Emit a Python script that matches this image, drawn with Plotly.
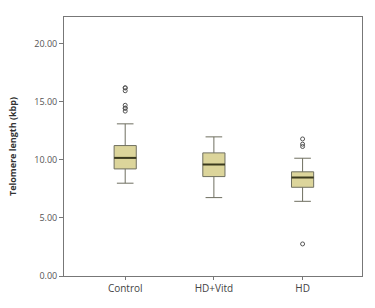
import plotly.graph_objects as go

categories = ["Control", "HD+Vitd", "HD"]
q1 = [9.22, 8.56, 7.64]
median = [10.17, 9.60, 8.48]
q3 = [11.23, 10.60, 8.97]
lower_whisker = [7.99, 6.75, 6.43]
upper_whisker = [13.10, 11.98, 10.14]
outlier_group = [0, 0, 0, 0, 0, 0, 0, 2, 2, 2, 2]
outlier_values = [16.2, 16.2, 15.95, 14.7, 14.45, 14.2, 14.45, 11.8, 11.35, 11.15, 2.76]
y_ticks = [0, 5, 10, 15, 20]

pos = list(range(len(categories)))
box_w = 0.25

fig = go.Figure()
fig.add_trace(go.Box(
    x=pos, q1=q1, median=median, q3=q3,
    lowerfence=lower_whisker, upperfence=upper_whisker,
    width=box_w, whiskerwidth=0.75,
    fillcolor="#dcd59b", line=dict(color="#6f6f60", width=1),
    boxpoints=False, hoverinfo="skip", showlegend=False,
))
# thicker median lines
mx, my = [], []
for p, m in zip(pos, median):
    mx += [p - box_w / 2, p + box_w / 2, None]
    my += [m, m, None]
fig.add_trace(go.Scatter(x=mx, y=my, mode="lines",
                         line=dict(color="#3b3a1e", width=2),
                         showlegend=False, hoverinfo="skip"))
fig.add_trace(go.Scatter(
    x=[pos[g] for g in outlier_group], y=outlier_values, mode="markers",
    marker=dict(symbol="circle-open", size=4, color="#555555", line=dict(width=1)),
    showlegend=False, hoverinfo="skip"))

fig.update_layout(
    width=375, height=308,
    margin=dict(l=62, r=12, t=17, b=32),
    paper_bgcolor="white", plot_bgcolor="white",
    font=dict(family="Open Sans, sans-serif", color="#555555", size=9),
    xaxis=dict(range=[-0.69, 2.67], tickmode="array", tickvals=pos, ticktext=categories,
               showgrid=False, zeroline=False, showline=True, linecolor="#777777",
               linewidth=1, mirror=True, ticks="outside", ticklen=3, tickcolor="#777777",
               tickfont=dict(size=10, color="#444444")),
    yaxis=dict(range=[0, 22.3], tickmode="array", tickvals=y_ticks,
               ticktext=[f"{v:.2f}" for v in y_ticks],
               showgrid=False, zeroline=False, showline=True, linecolor="#777777",
               linewidth=1, mirror=True, ticks="outside", ticklen=4, tickcolor="#777777",
               tickfont=dict(size=9, color="#555555"),
               title=dict(text="<b>Telomere length (kbp)</b>", standoff=16,
                          font=dict(size=9, color="#333333"))),
)

fig.write_html("out.html")
